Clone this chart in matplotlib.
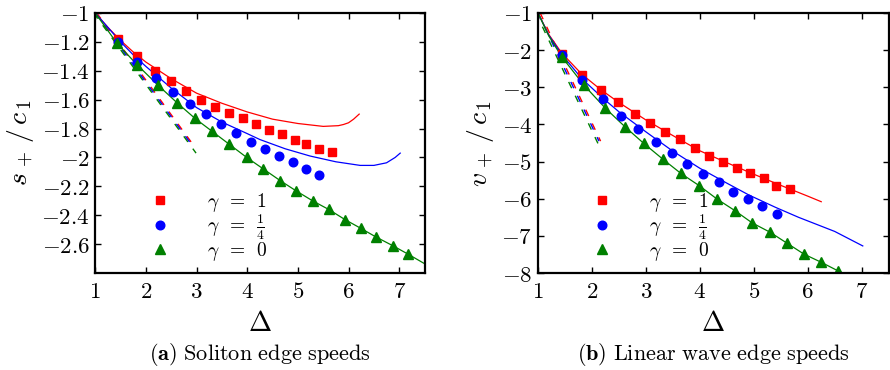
import matplotlib
matplotlib.use("Agg")
import matplotlib.pyplot as plt
from matplotlib.ticker import FuncFormatter

plt.rcParams["mathtext.fontset"] = "cm"
plt.rcParams["font.family"] = ["DejaVu Serif"]

RED, BLUE, GREEN = "#ff0000", "#0000ff", "#008000"

# ---- (a) soliton edge speeds ----
sol_sq_x = [1.44, 1.82, 2.17, 2.49, 2.79, 3.08, 3.37, 3.64, 3.91, 4.18, 4.43, 4.69, 4.94, 5.17, 5.42, 5.67]
sol_sq_y = [-1.18, -1.30, -1.40, -1.47, -1.54, -1.60, -1.65, -1.69, -1.73, -1.77, -1.81, -1.84, -1.88, -1.91, -1.94, -1.96]
sol_ci_x = [1.44, 1.83, 2.20, 2.54, 2.87, 3.18, 3.48, 3.78, 4.07, 4.35, 4.63, 4.90, 5.16, 5.42]
sol_ci_y = [-1.20, -1.34, -1.45, -1.55, -1.63, -1.70, -1.77, -1.83, -1.89, -1.94, -1.99, -2.03, -2.08, -2.12]
sol_tr_x = [1.43, 1.83, 2.24, 2.61, 2.97, 3.31, 3.65, 3.99, 4.32, 4.65, 4.96, 5.29, 5.61, 5.93, 6.24, 6.54, 6.87, 7.18]
sol_tr_y = [-1.21, -1.36, -1.50, -1.62, -1.73, -1.82, -1.91, -2.00, -2.08, -2.16, -2.23, -2.30, -2.36, -2.43, -2.49, -2.55, -2.61, -2.67]

sol_red_x = [1.0, 1.25, 1.5, 1.75, 2.0, 2.5, 3.0, 3.5, 4.0, 4.5, 5.0, 5.5, 5.8, 5.9, 6.0, 6.1, 6.21]
sol_red_y = [-1.0, -1.10, -1.19, -1.27, -1.34, -1.455, -1.555, -1.625, -1.685, -1.735, -1.765, -1.785, -1.78, -1.772, -1.76, -1.735, -1.70]
sol_blue_x = [1.0, 1.25, 1.5, 1.75, 2.0, 2.5, 3.0, 3.5, 4.0, 4.25, 4.75, 5.24, 5.75, 6.23, 6.5, 6.75, 6.92, 7.02]
sol_blue_y = [-1.0, -1.10, -1.20, -1.29, -1.37, -1.52, -1.655, -1.755, -1.835, -1.876, -1.94, -1.99, -2.03, -2.055, -2.055, -2.037, -2.0, -1.97]
sol_green_x = [1.0, 1.43, 1.83, 2.24, 2.61, 2.97, 3.31, 3.65, 3.99, 4.32, 4.65, 4.96, 5.29, 5.61, 5.93, 6.24, 6.54, 6.87, 7.18, 7.5]
sol_green_y = [-1.0, -1.21, -1.36, -1.50, -1.62, -1.73, -1.82, -1.91, -2.00, -2.08, -2.16, -2.23, -2.30, -2.36, -2.43, -2.49, -2.55, -2.61, -2.67, -2.735]

sol_dash_red = ([1.03, 2.95], [-1.0, -1.92])
sol_dash_blue = ([1.0, 2.92], [-1.0, -1.92])
sol_dash_green = ([0.97, 2.99], [-1.0, -1.97])

# ---- (b) linear wave edge speeds ----
lin_sq_x = [1.44, 1.82, 2.16, 2.48, 2.79, 3.08, 3.36, 3.64, 3.91, 4.17, 4.43, 4.68, 4.93, 5.18, 5.42, 5.67]
lin_sq_y = [-2.10, -2.67, -3.07, -3.39, -3.72, -3.95, -4.21, -4.40, -4.63, -4.85, -5.00, -5.18, -5.30, -5.45, -5.66, -5.75]
lin_ci_x = [1.44, 1.82, 2.21, 2.54, 2.86, 3.18, 3.48, 3.77, 4.06, 4.35, 4.62, 4.89, 5.16, 5.43]
lin_ci_y = [-2.12, -2.80, -3.32, -3.76, -4.12, -4.47, -4.78, -5.07, -5.33, -5.56, -5.82, -6.02, -6.20, -6.42]
lin_tr_x = [1.44, 1.85, 2.24, 2.61, 2.96, 3.31, 3.65, 3.99, 4.32, 4.65, 4.97, 5.30, 5.62, 5.93, 6.25, 6.56]
lin_tr_y = [-2.18, -2.94, -3.55, -4.06, -4.51, -4.93, -5.32, -5.65, -6.01, -6.32, -6.65, -6.90, -7.20, -7.49, -7.71, -7.94]

lin_red_x = [1.0, 1.2, 1.44, 1.82, 2.16, 2.5, 3.0, 3.5, 4.0, 4.5, 5.0, 5.5, 6.0, 6.25]
lin_red_y = [-1.0, -1.58, -2.08, -2.66, -3.06, -3.41, -3.88, -4.30, -4.71, -5.03, -5.34, -5.64, -5.93, -6.08]
lin_blue_x = [1.0, 1.2, 1.44, 1.82, 2.2, 2.5, 3.0, 3.5, 4.0, 4.5, 4.91, 5.4, 5.83, 6.5, 7.02]
lin_blue_y = [-1.0, -1.60, -2.12, -2.78, -3.29, -3.66, -4.20, -4.72, -5.18, -5.58, -5.90, -6.23, -6.50, -6.88, -7.27]
lin_green_x = [1.0, 1.2, 1.44, 1.85, 2.24, 2.61, 2.96, 3.31, 3.65, 3.99, 4.32, 4.65, 4.97, 5.30, 5.62, 5.93, 6.25, 6.56, 6.75]
lin_green_y = [-1.0, -1.62, -2.18, -2.94, -3.55, -4.06, -4.51, -4.93, -5.32, -5.65, -6.01, -6.32, -6.65, -6.90, -7.20, -7.49, -7.71, -7.94, -8.08]

lin_dash_red = ([1.04, 2.16], [-1.0, -4.45])
lin_dash_blue = ([1.0, 2.13], [-1.0, -4.45])
lin_dash_green = ([0.96, 2.14], [-1.0, -4.60])

legend_labels = [r"$\gamma\ \,=\ \,1$", r"$\gamma\ \,=\ \,\frac{1}{4}$", r"$\gamma\ \,=\ \,0$"]

fig = plt.figure(figsize=(8.9, 3.7), dpi=100)
ax1 = fig.add_axes([0.107, 0.262, 0.370, 0.703])
ax2 = fig.add_axes([0.6045, 0.262, 0.394, 0.703])


def draw(ax, sq, ci, tr, lines, dashes):
    for (x, y), c in zip(dashes, (RED, BLUE, GREEN)):
        ax.plot(x, y, color=c, lw=1.0, dashes=(5, 6))
    for (x, y), c in zip(lines, (RED, BLUE, GREEN)):
        ax.plot(x, y, color=c, lw=0.9)
    h1, = ax.plot(*sq, ls="none", marker="s", ms=5.5, color=RED)
    h2, = ax.plot(*ci, ls="none", marker="o", ms=6.2, color=BLUE)
    h3, = ax.plot(*tr, ls="none", marker="^", ms=6.5, color=GREEN)
    return [h1, h2, h3]


def style(ax, yticks, ylim, ylabel, caption):
    ax.set_xlim(1, 7.5)
    ax.set_ylim(*ylim)
    ax.set_xticks([1, 2, 3, 4, 5, 6, 7])
    ax.set_yticks(yticks)
    fmt = FuncFormatter(lambda v, p: "$%g$" % v)
    ax.xaxis.set_major_formatter(fmt)
    ax.yaxis.set_major_formatter(fmt)
    ax.tick_params(direction="in", top=True, right=True, length=4, width=1, labelsize=16.5)
    ax.tick_params(axis="x", pad=6)
    ax.tick_params(axis="y", pad=4)
    for s in ax.spines.values():
        s.set_linewidth(1.6)
    ax.set_xlabel(r"$\Delta$", fontsize=20, labelpad=5)
    ax.set_ylabel(ylabel, fontsize=20, labelpad=4)
    ax.text(0.5, -0.315, caption, transform=ax.transAxes, ha="center", va="center", fontsize=16)


hs = draw(ax1, (sol_sq_x, sol_sq_y), (sol_ci_x, sol_ci_y), (sol_tr_x, sol_tr_y),
          [(sol_red_x, sol_red_y), (sol_blue_x, sol_blue_y), (sol_green_x, sol_green_y)],
          [sol_dash_red, sol_dash_blue, sol_dash_green])
style(ax1, [-1, -1.2, -1.4, -1.6, -1.8, -2, -2.2, -2.4, -2.6], (-2.8, -1),
      r"$s_{\,+}\,/\,c_{\,1}$", r"$\mathbf{(a)}\ \mathrm{Soliton\ edge\ speeds}$")
ax1.legend(hs, legend_labels, loc="center left", bbox_to_anchor=(0.167, 0.178), frameon=False,
           fontsize=14, handlelength=1.0, handletextpad=1.9, labelspacing=-0.1,
           borderpad=0, borderaxespad=0)

hs = draw(ax2, (lin_sq_x, lin_sq_y), (lin_ci_x, lin_ci_y), (lin_tr_x, lin_tr_y),
          [(lin_red_x, lin_red_y), (lin_blue_x, lin_blue_y), (lin_green_x, lin_green_y)],
          [lin_dash_red, lin_dash_blue, lin_dash_green])
style(ax2, [-1, -2, -3, -4, -5, -6, -7, -8], (-8, -1),
      r"$v_{\,+}\,/\,c_{\,1}$", r"$\mathbf{(b)}\ \mathrm{Linear\ wave\ edge\ speeds}$")
ax2.legend(hs, legend_labels, loc="center left", bbox_to_anchor=(0.155, 0.178), frameon=False,
           fontsize=14, handlelength=1.0, handletextpad=1.9, labelspacing=-0.1,
           borderpad=0, borderaxespad=0)

fig.savefig("out.png", dpi=100)
